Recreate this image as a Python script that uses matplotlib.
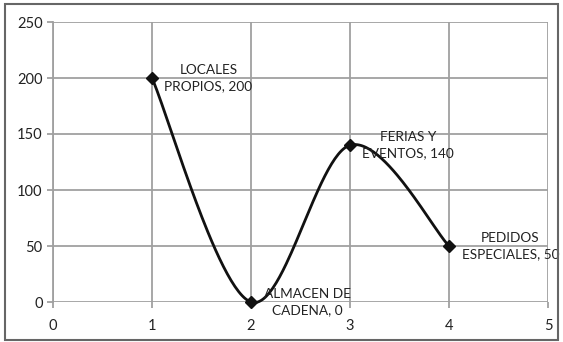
import numpy as np
import matplotlib.pyplot as plt
from matplotlib.patches import Rectangle

plt.rcParams['font.family'] = ['Lato', 'DejaVu Sans']

x_vals = [1, 2, 3, 4]
y_vals = [200, 0, 140, 50]
labels = ["LOCALES\nPROPIOS, 200", "ALMACEN DE\nCADENA, 0",
          "FERIAS Y\nEVENTOS, 140", "PEDIDOS\nESPECIALES, 50"]


def smooth_curve(xs, ys, n=60):
    # Bezier smoothing between points, control points from neighbours
    pts = np.column_stack([xs, ys]).astype(float)
    ext = np.vstack([pts[0], pts, pts[-1]])
    out = []
    for i in range(len(pts) - 1):
        p0, p1, p2, p3 = ext[i], ext[i + 1], ext[i + 2], ext[i + 3]
        c1 = p1 + (p2 - p0) / 6
        c2 = p2 - (p3 - p1) / 6
        t = np.linspace(0, 1, n)[:, None]
        seg = ((1 - t) ** 3) * p1 + 3 * ((1 - t) ** 2) * t * c1 \
            + 3 * (1 - t) * t ** 2 * c2 + t ** 3 * p2
        out.append(seg if i == 0 else seg[1:])
    seg = np.vstack(out)
    return seg[:, 0], seg[:, 1]


fig = plt.figure(figsize=(5.63, 3.42), dpi=100)
ax = fig.add_axes([53 / 563, 1 - 302 / 342, 495 / 563, 280 / 342])

sx, sy = smooth_curve(x_vals, y_vals)
ax.plot(sx, sy, color='#111111', lw=2.0, zorder=3, clip_on=False)
ax.plot(x_vals, y_vals, 'D', color='#111111', ms=6.5, zorder=4, clip_on=False)

for xv, yv, lab in zip(x_vals, y_vals, labels):
    ax.annotate(lab, (xv, yv), xytext=(9, 0), textcoords='offset points',
                ha='left', va='center', multialignment='center',
                fontsize=9.8, color='#222222', linespacing=1.4,
                annotation_clip=False, zorder=5)

ax.set_xlim(0, 5)
ax.set_ylim(0, 250)
ax.set_xticks(range(0, 6))
ax.set_yticks(range(0, 251, 50))
ax.grid(True, color='#a0a0a0', lw=1.3)
ax.set_axisbelow(True)
for side in ['top', 'right', 'bottom']:
    ax.spines[side].set_visible(False)
ax.spines['left'].set_color('#a0a0a0')
ax.spines['left'].set_linewidth(1.3)
ax.tick_params(axis='both', colors='#a0a0a0', labelcolor='#222222',
               labelsize=10.5, length=4, width=1.3)
ax.tick_params(axis='x', pad=8)

fig.patches.append(Rectangle((5 / 563, 2 / 342), 553 / 563, 336 / 342,
                             transform=fig.transFigure, fill=False,
                             edgecolor='#666666', lw=1.5))

fig.savefig('out.png', dpi=100)
